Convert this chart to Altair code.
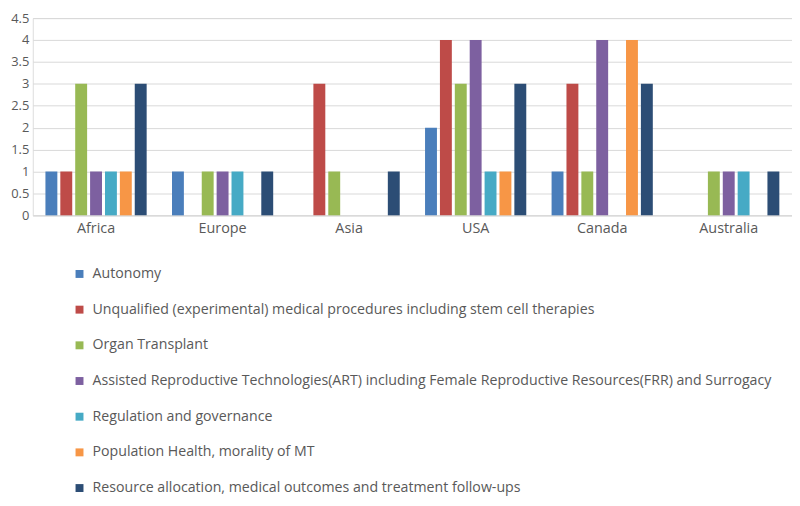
import altair as alt
import pandas as pd

regions = ["Africa", "Europe", "Asia", "USA", "Canada", "Australia"]
series = [
    "Autonomy",
    "Unqualified (experimental) medical procedures including stem cell therapies",
    "Organ Transplant",
    "Assisted Reproductive Technologies(ART)  including Female Reproductive Resources(FRR) and Surrogacy",
    "Regulation and governance",
    "Population Health, morality of MT",
    "Resource allocation, medical outcomes and treatment follow-ups",
]
colors = ["#4a7ebb", "#be4b48", "#98b954", "#7d60a0", "#46aac5", "#f79646", "#2c4d75"]

autonomy = [1, 1, 0, 2, 1, 0]
unqualified = [1, 0, 3, 4, 3, 0]
organ = [3, 1, 1, 3, 1, 1]
art = [1, 1, 0, 4, 4, 1]
regulation = [1, 1, 0, 1, 0, 1]
population = [1, 0, 0, 1, 4, 0]
resource = [3, 1, 1, 3, 3, 1]

values = [autonomy, unqualified, organ, art, regulation, population, resource]
rows = []
for s, vals in zip(series, values):
    for r, v in zip(regions, vals):
        rows.append({"region": r, "series": s, "value": v})
df = pd.DataFrame(rows)

font = "Open Sans"
grey = "#595959"

chart = alt.Chart(df).mark_bar().encode(
    x=alt.X("region:N", sort=regions, title=None,
            scale=alt.Scale(paddingInner=0.2, paddingOuter=0.1),
            axis=alt.Axis(labelAngle=0, labelFontSize=14.5, labelColor=grey, labelFont=font,
                          ticks=False, domainColor="#d9d9d9", labelPadding=6)),
    xOffset=alt.XOffset("series:N", sort=series,
                        scale=alt.Scale(paddingInner=0.2, paddingOuter=0)),
    y=alt.Y("value:Q", title=None,
            scale=alt.Scale(domain=[0, 4.5], nice=False),
            axis=alt.Axis(values=[0, 0.5, 1, 1.5, 2, 2.5, 3, 3.5, 4, 4.5], format=".2~f",
                          labelFontSize=13, labelColor=grey, labelFont=font, ticks=False,
                          domain=False, gridColor="#d9d9d9", labelPadding=4)),
    color=alt.Color("series:N", sort=series, title=None,
                    scale=alt.Scale(domain=series, range=colors),
                    legend=alt.Legend(orient="none", legendX=40, legendY=251, direction="vertical",
                                      symbolType="square", symbolSize=64, symbolStrokeWidth=0,
                                      labelFontSize=14.3, labelColor=grey, labelFont=font,
                                      rowPadding=21, padding=0, labelOffset=6,
                                      labelLimit=800, columns=1)),
).properties(
    width=766, height=199,
    padding={"left": 25, "top": 8, "right": 0, "bottom": 283},
    autosize=alt.AutoSizeParams(type="none"),
).configure_view(stroke=None).configure(background="white")

chart.save("out.html", embed_options={"renderer": "svg", "actions": False})
